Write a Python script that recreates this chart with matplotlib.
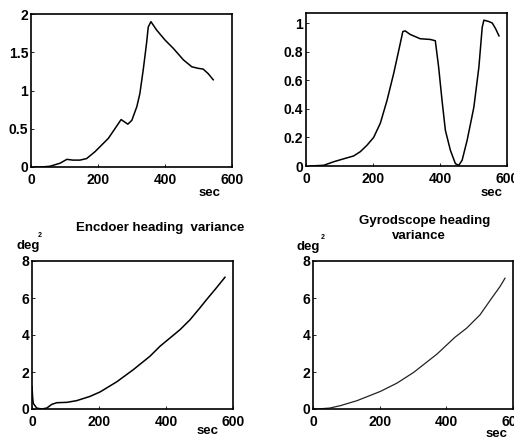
import matplotlib
matplotlib.use("Agg")
import matplotlib.pyplot as plt

plt.rcParams['font.family'] = ['Liberation Sans', 'DejaVu Sans']

# Top-left panel (unlabelled quantity vs sec)
tl_t = [10, 30, 57, 87, 107, 125, 146, 166, 191, 231, 269, 289, 301, 316, 325,
        335, 345, 350, 358, 375, 400, 425, 455, 480, 499, 514, 529, 544]
tl_v = [0, 0, 0.01, 0.05, 0.10, 0.09, 0.09, 0.11, 0.20, 0.375, 0.62, 0.56, 0.61,
        0.79, 0.96, 1.27, 1.62, 1.83, 1.90, 1.79, 1.66, 1.55, 1.40, 1.31, 1.29,
        1.28, 1.22, 1.14]

# Top-right panel
tr_t = [13, 53, 83, 112, 142, 162, 182, 202, 222, 242, 262, 277, 289, 296, 311,
        341, 371, 386, 396, 406, 416, 431, 446, 456, 466, 481, 501, 516, 526,
        531, 546, 556, 566, 576]
tr_v = [0, 0.005, 0.03, 0.05, 0.07, 0.10, 0.145, 0.20, 0.30, 0.46, 0.65, 0.81,
        0.94, 0.945, 0.92, 0.89, 0.885, 0.876, 0.69, 0.46, 0.25, 0.11, 0.016,
        0.005, 0.04, 0.18, 0.41, 0.69, 0.97, 1.02, 1.01, 1.0, 0.96, 0.91]

# Bottom-left: Encoder heading variance (deg^2)
bl_t = [0, 2, 4, 14, 29, 44, 59, 74, 104, 133, 173, 203, 253, 302, 352, 382,
        412, 442, 472, 501, 521, 546, 576]
bl_v = [1.2, 0.6, 0.3, 0.05, 0.0, 0.05, 0.25, 0.34, 0.36, 0.45, 0.68, 0.92,
        1.47, 2.12, 2.85, 3.39, 3.84, 4.29, 4.83, 5.46, 5.91, 6.45, 7.12]

# Bottom-right: Gyroscope heading variance (deg^2)
br_t = [0, 12, 50, 82, 132, 202, 252, 302, 372, 426, 461, 501, 536, 561, 576]
br_v = [0, 0, 0.05, 0.18, 0.45, 0.95, 1.4, 1.98, 2.97, 3.88, 4.37, 5.09, 5.99,
        6.62, 7.07]

xticks = [0, 200, 400, 600]
tl_yticks = [0, 0.5, 1, 1.5, 2]
tl_ylabels = ['0', '0.5', '1', '1.5', '2']
tr_yticks = [0, 0.2, 0.4, 0.6, 0.8, 1]
tr_ylabels = ['0', '0.2', '0.4', '0.6', '0.8', '1']
b_yticks = [0, 2, 4, 6, 8]

W, H = 514, 443
fig = plt.figure(figsize=(W / 100, H / 100), dpi=100)


def ax_px(x0, y0, x1, y1):
    return fig.add_axes([x0 / W, 1 - y1 / H, (x1 - x0) / W, (y1 - y0) / H])


def style(ax):
    for s in ax.spines.values():
        s.set_linewidth(1.2)
        s.set_color('black')
    ax.tick_params(direction='in', length=2.5, width=0.6, labelsize=10,
                   pad=2)
    ax.tick_params(axis='x', pad=4)
    for lab in ax.get_xticklabels() + ax.get_yticklabels():
        lab.set_fontweight('bold')


ax1 = ax_px(31, 14, 232, 167)
ax1.plot(tl_t, tl_v, color='black', lw=1.1)
ax1.set_xlim(0, 600)
ax1.set_ylim(0, 2)
ax1.set_xticks(xticks)
ax1.set_yticks(tl_yticks)
ax1.set_yticklabels(tl_ylabels)
style(ax1)

ax2 = ax_px(306, 13, 507, 166)
ax2.plot(tr_t, tr_v, color='black', lw=1.1)
ax2.set_xlim(0, 600)
ax2.set_ylim(0, 1.07)
ax2.set_xticks(xticks)
ax2.set_yticks(tr_yticks)
ax2.set_yticklabels(tr_ylabels)
style(ax2)

ax3 = ax_px(32, 261, 233, 409)
ax3.plot(bl_t, bl_v, color='black', lw=1.1)
ax3.set_xlim(0, 600)
ax3.set_ylim(0, 8)
ax3.set_xticks(xticks)
ax3.set_yticks(b_yticks)
style(ax3)

ax4 = ax_px(313, 261, 513, 409)
ax4.plot(br_t, br_v, color='#222222', lw=0.9)
ax4.set_xlim(0, 600)
ax4.set_ylim(0, 8)
ax4.set_xticks(xticks)
ax4.set_yticks(b_yticks)
style(ax4)


def ftext(x, y, s, size, **kw):
    fig.text(x / W, 1 - y / H, s, fontsize=size, fontweight='bold',
             ha='center', va='center', **kw)


# "sec" labels
ftext(209.5, 193, 'sec', 9.5)
ftext(492, 193, 'sec', 9.5)
ftext(208, 431, 'sec', 9.5)
ftext(496.5, 434, 'sec', 9.5)

# titles
ftext(160.5, 228, 'Encdoer heading  variance', 9.5)
ftext(424.5, 221, 'Gyrodscope heading', 9.5)
ftext(419, 236, 'variance', 9.5)

# deg^2 labels
ftext(28, 246, 'deg', 9.5)
ftext(40, 236, '2', 5)
ftext(308.5, 247, 'deg', 9.5)
ftext(322.5, 237, '2', 5)

fig.savefig('out.png', dpi=100)
